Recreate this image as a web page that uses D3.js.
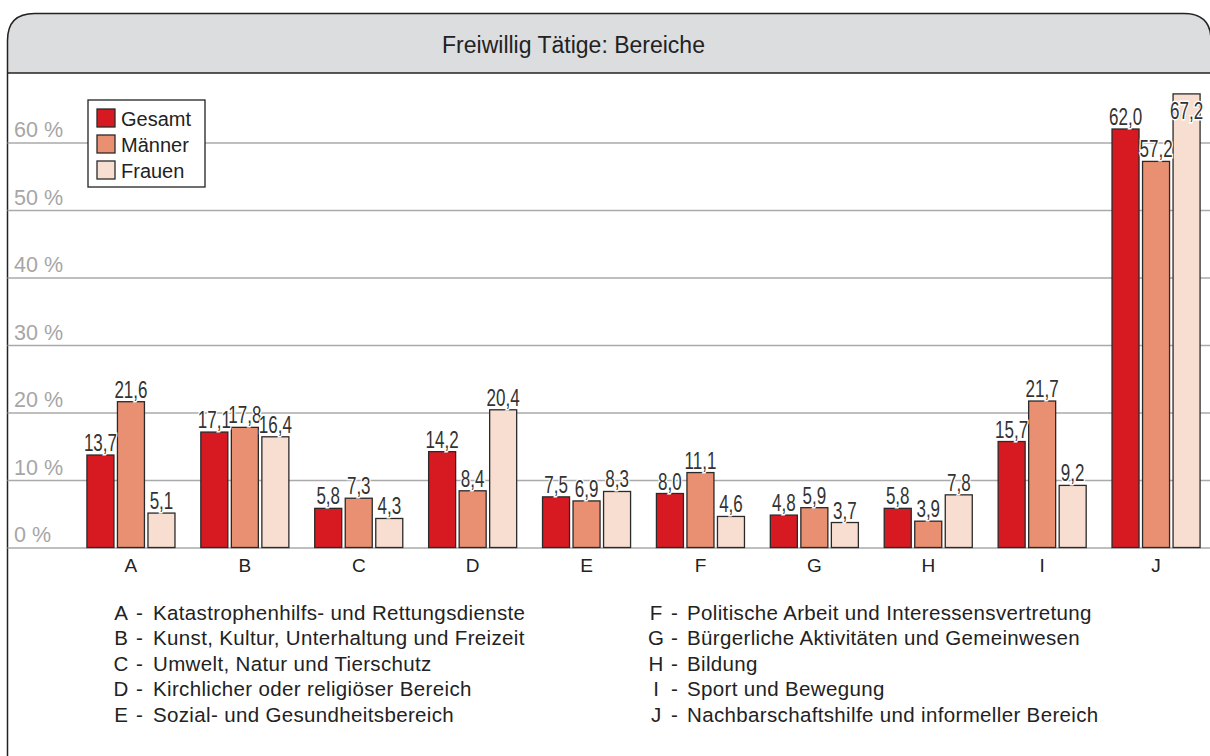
<!DOCTYPE html>
<head>
  <meta charset="utf-8">
  <script src="https://d3js.org/d3.v7.min.js"></script>
  <style>
    body { margin:0; background:#fff; }
    text { font-family: "Liberation Sans", Arial, sans-serif; }
  </style>
</head>
<body>
<svg width="1210" height="756" id="chart"></svg>
<script>
var categories = ["A","B","C","D","E","F","G","H","I","J"];
var seriesNames = ["Gesamt","Männer","Frauen"];
var gesamt = [13.7, 17.1, 5.8, 14.2, 7.5, 8.0, 4.8, 5.8, 15.7, 62.0];
var maenner = [21.6, 17.8, 7.3, 8.4, 6.9, 11.1, 5.9, 3.9, 21.7, 57.2];
var frauen = [5.1, 16.4, 4.3, 20.4, 8.3, 4.6, 3.7, 7.8, 9.2, 67.2];
var yTicks = [0, 10, 20, 30, 40, 50, 60];
var descLeft = ["Katastrophenhilfs- und Rettungsdienste", "Kunst, Kultur, Unterhaltung und Freizeit",
  "Umwelt, Natur und Tierschutz", "Kirchlicher oder religiöser Bereich", "Sozial- und Gesundheitsbereich"];
var descRight = ["Politische Arbeit und Interessensvertretung", "Bürgerliche Aktivitäten und Gemeinwesen",
  "Bildung", "Sport und Bewegung", "Nachbarschaftshilfe und informeller Bereich"];
var colors = ["#d71a21", "#e98f72", "#f8ddd1"];

var svg = d3.select("#chart");
var series = [gesamt, maenner, frauen];
var data = categories.map(function(c, i) {
  return { cat: c, vals: series.map(function(s, k) { return { key: seriesNames[k], k: k, v: s[i] }; }) };
});

// frame + header
var L = 7.5, T = 13.5, R = 1211, rad = 27;
svg.append("path")
  .attr("d", "M" + L + ",73 L" + L + "," + (T + rad) + " Q" + L + "," + T + " " + (L + rad) + "," + T +
    " L" + (R - rad) + "," + T + " Q" + R + "," + T + " " + R + "," + (T + rad) + " L" + R + ",73 Z")
  .attr("fill", "#dcdddf").attr("stroke", "none");
svg.append("path")
  .attr("d", "M" + L + ",760 L" + L + "," + (T + rad) + " Q" + L + "," + T + " " + (L + rad) + "," + T +
    " L" + (R - rad) + "," + T + " Q" + R + "," + T + " " + R + "," + (T + rad) + " L" + R + ",760")
  .attr("fill", "none").attr("stroke", "#222").attr("stroke-width", 1.5);
svg.append("line").attr("x1", L).attr("x2", R).attr("y1", 73).attr("y2", 73)
  .attr("stroke", "#222").attr("stroke-width", 1.5);
svg.append("text").attr("x", 573.5).attr("y", 53).attr("text-anchor", "middle")
  .attr("font-size", 23).attr("fill", "#222").text("Freiwillig Tätige: Bereiche");

// scales
var y = d3.scaleLinear().domain([0, 60]).range([547.5, 142.5]);
var x0 = d3.scaleBand().domain(categories).range([74, 1213]).paddingInner(0.227).paddingOuter(0.1135);
var x1 = d3.scaleBand().domain(seriesNames).range([0, x0.bandwidth()]).paddingInner(0.115);

// gridlines
var grid = svg.append("g").attr("transform", "translate(" + L + ",0)")
  .call(d3.axisRight(y).tickValues(yTicks).tickSize(R - L).tickFormat(""));
grid.select(".domain").remove();
grid.selectAll("line").attr("stroke", "#aaa").attr("stroke-width", 1.3);

svg.selectAll(".ytick").data(yTicks).enter().append("text")
  .attr("x", 14).attr("y", function(d) { return y(d) - 5.5; })
  .attr("font-size", 21.5).attr("fill", "#a6a6a6")
  .text(function(d) { return d + " %"; });

// bars
var groups = svg.selectAll(".grp").data(data).enter().append("g")
  .attr("transform", function(d) { return "translate(" + x0(d.cat) + ",0)"; });
groups.selectAll("rect").data(function(d) { return d.vals; }).enter().append("rect")
  .attr("x", function(d) { return x1(d.key); })
  .attr("y", function(d) { return y(d.v); })
  .attr("width", x1.bandwidth())
  .attr("height", function(d) { return y(0) - y(d.v); })
  .attr("fill", function(d) { return colors[d.k]; })
  .attr("stroke", "#2a2a2a").attr("stroke-width", 1.3);
// value labels, squeezed horizontally to look condensed
groups.selectAll(".val").data(function(d) { return d.vals; }).enter().append("text")
  .attr("class", "val")
  .attr("transform", function(d) {
    var cx = x1(d.key) + x1.bandwidth() / 2, cy = Math.max(y(d.v) - 4, 119);
    return "translate(" + cx + "," + cy + ") scale(0.74,1)";
  })
  .attr("text-anchor", "middle").attr("font-size", 23).attr("fill", "#333")
  .attr("stroke", "#fff").attr("stroke-width", 3).attr("paint-order", "stroke")
  .text(function(d) { return d.v.toFixed(1).replace(".", ","); });

// x axis labels
var xa = svg.append("g").attr("transform", "translate(0," + y(0) + ")")
  .call(d3.axisBottom(x0).tickSize(0).tickPadding(0));
xa.select(".domain").remove();
xa.selectAll("text").attr("y", 24).attr("dy", 0).attr("font-size", 19).attr("fill", "#222")
  .style("font-family", "'Liberation Sans', Arial, sans-serif");

// legend
var lg = svg.append("g").attr("transform", "translate(88,100)");
lg.append("rect").attr("width", 117).attr("height", 87).attr("fill", "#fff")
  .attr("stroke", "#222").attr("stroke-width", 1.3);
seriesNames.forEach(function(n, k) {
  lg.append("rect").attr("x", 9).attr("y", 9 + k * 26).attr("width", 18).attr("height", 18)
    .attr("fill", colors[k]).attr("stroke", "#2a2a2a").attr("stroke-width", 1.3);
  lg.append("text").attr("x", 33).attr("y", 26 + k * 26).attr("font-size", 20).attr("fill", "#222").text(n);
});

// descriptions
function descColumn(letters, texts, xL, xD, xT) {
  texts.forEach(function(t, i) {
    var by = 619.5 + i * 25.5;
    svg.append("text").attr("x", xL).attr("y", by).attr("text-anchor", "middle")
      .attr("font-size", 20.5).attr("fill", "#222").text(letters[i]);
    svg.append("text").attr("x", xD).attr("y", by).attr("font-size", 20.5).attr("fill", "#222").text("-");
    svg.append("text").attr("x", xT).attr("y", by).attr("font-size", 20.5).attr("fill", "#222")
      .attr("letter-spacing", 0.35).text(t);
  });
}
descColumn(categories.slice(0, 5), descLeft, 121, 136, 153);
descColumn(categories.slice(5), descRight, 656, 671, 687);
</script>
</body>
